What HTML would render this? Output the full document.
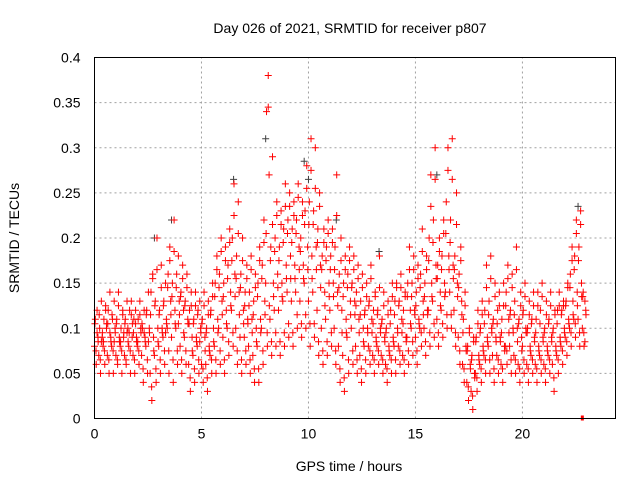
<!DOCTYPE html>
<html><head><meta charset="utf-8"><style>
body{margin:0;background:#fff}
svg{display:block;font-family:"Liberation Sans",sans-serif}
</style></head><body>
<svg id="chart" width="640" height="480">
<text x="350" y="33" font-size="14" text-anchor="middle">Day 026 of 2021, SRMTID for receiver p807</text>
<text x="349" y="471" font-size="14" text-anchor="middle">GPS time / hours</text>
<text transform="translate(19,238) rotate(-90)" font-size="14" text-anchor="middle">SRMTID / TECUs</text>
<g id="grid"></g><g id="ticks"></g><g id="gray"></g><g id="red"></g>
<rect x="94.5" y="57.5" width="521" height="361" fill="none" stroke="#000"/>
</svg>
<script>
const xTicks=[0,5,10,15,20];
const yTicks=[0,0.05,0.1,0.15,0.2,0.25,0.3,0.35,0.4];
const yTickLabels=["0","0.05","0.1","0.15","0.2","0.25","0.3","0.35","0.4"];
const binStart=0, binStep=0.2;
const samples=[
[.06,.08,.09,.11,.12],[.05,.07,.09,.10,.13],[.06,.08,.10,.11,.12],[.05,.07,.09,.12,.14],[.05,.08,.10,.11,.13],
[.06,.07,.09,.11,.14],[.05,.08,.09,.10,.12],[.06,.07,.10,.11,.13],[.05,.08,.09,.12,.13],[.05,.07,.09,.11,.12],
[.06,.08,.10,.11,.13],[.04,.07,.09,.10,.12],[.05,.08,.10,.12,.14],[.02,.05,.09,.14,.16],[.04,.07,.10,.13,.20],
[.05,.08,.10,.12,.17],[.06,.09,.11,.13,.15],[.05,.10,.13,.16,.19],[.04,.09,.12,.15,.22],[.06,.10,.13,.16,.18],
[.05,.08,.12,.14,.17],[.06,.09,.11,.13,.16],[.03,.06,.09,.12,.14],[.04,.07,.09,.11,.14],[.05,.08,.10,.12,.13],
[.04,.06,.09,.11,.14],[.03,.06,.08,.10,.13],[.05,.07,.10,.12,.15],[.05,.08,.11,.15,.18],[.06,.10,.13,.16,.20],
[.05,.09,.12,.15,.19],[.07,.10,.14,.17,.21],[.08,.12,.16,.20,.26],[.06,.10,.14,.18,.24],[.05,.09,.12,.16,.20],
[.06,.09,.11,.14,.17],[.05,.08,.11,.14,.18],[.04,.07,.10,.13,.16],[.04,.08,.11,.15,.19],[.06,.10,.13,.17,.22],
[.08,.15,.27,.34,.38],[.07,.11,.15,.19,.29],[.08,.12,.16,.20,.24],[.07,.12,.15,.19,.23],[.08,.13,.17,.21,.26],
[.09,.14,.18,.22,.25],[.08,.13,.17,.21,.24],[.10,.14,.19,.22,.26],[.09,.13,.17,.20,.24],[.10,.15,.19,.23,.28],
[.08,.13,.18,.24,.31],[.09,.14,.19,.23,.30],[.07,.12,.17,.21,.25],[.06,.10,.14,.18,.21],[.07,.11,.15,.19,.22],
[.08,.12,.15,.18,.21],[.06,.10,.14,.19,.27],[.04,.08,.12,.16,.20],[.03,.07,.11,.15,.18],[.05,.09,.13,.16,.19],
[.06,.10,.13,.15,.18],[.05,.08,.11,.14,.17],[.04,.07,.10,.13,.16],[.05,.08,.10,.12,.15],[.06,.08,.11,.13,.17],
[.05,.07,.09,.12,.14],[.06,.08,.10,.12,.18],[.05,.07,.09,.11,.14],[.04,.06,.08,.10,.13],[.05,.07,.09,.12,.15],
[.05,.08,.10,.13,.15],[.06,.08,.11,.13,.16],[.05,.07,.09,.12,.14],[.06,.09,.12,.15,.19],[.07,.10,.12,.15,.18],
[.06,.09,.11,.14,.17],[.08,.10,.13,.16,.21],[.07,.10,.12,.15,.18],[.08,.12,.15,.20,.27],[.09,.13,.17,.22,.30],
[.08,.11,.14,.17,.20],[.09,.12,.15,.18,.22],[.10,.14,.18,.24,.30],[.10,.14,.17,.22,.31],[.08,.12,.15,.18,.25],
[.06,.09,.13,.16,.19],[.04,.06,.08,.11,.14],[.02,.04,.06,.08,.10],[.01,.03,.05,.07,.09],[.03,.05,.07,.09,.12],
[.04,.06,.08,.10,.13],[.05,.07,.09,.12,.17],[.05,.08,.10,.13,.18],[.04,.07,.09,.11,.15],[.05,.07,.09,.12,.14],
[.04,.06,.08,.11,.15],[.06,.08,.11,.14,.17],[.05,.08,.10,.12,.16],[.05,.07,.10,.13,.19],[.04,.06,.09,.11,.14],
[.05,.08,.10,.12,.15],[.04,.06,.08,.10,.13],[.05,.07,.09,.11,.14],[.04,.06,.08,.11,.14],[.05,.07,.09,.12,.15],
[.04,.06,.08,.10,.13],[.05,.07,.09,.11,.14],[.03,.06,.08,.10,.12],[.05,.07,.09,.12,.14],[.06,.08,.10,.12,.13],
[.07,.09,.11,.13,.15],[.08,.10,.13,.16,.19],[.09,.11,.14,.18,.22],[.08,.11,.15,.19,.23],[.08,.10,.12,.14,.13]
];
const samplesB=[
[.075,.085,.105,.095],[.065,.095,.115,.085],[.075,.105,.085,.125],[.065,.085,.105,.095],[.075,.095,.115,.085],
[.065,.085,.105,.125],[.075,.095,.085,.115],[.065,.085,.105,.095],[.075,.105,.095,.115],[.065,.085,.095,.105],
[.075,.095,.085,.115],[.055,.085,.105,.095],[.065,.095,.115,.085],[.035,.075,.115,.155],[.055,.085,.125,.165],
[.065,.095,.115,.145],[.075,.105,.125,.095],[.075,.115,.145,.175],[.065,.105,.135,.185],[.075,.115,.145,.105],
[.065,.095,.135,.155],[.075,.105,.125,.145],[.045,.075,.105,.125],[.055,.085,.105,.125],[.065,.095,.115,.085],
[.055,.075,.105,.125],[.045,.075,.095,.115],[.065,.085,.115,.135],[.065,.095,.135,.165],[.075,.115,.145,.185],
[.065,.105,.135,.175],[.085,.125,.155,.195],[.095,.135,.175,.225],[.075,.115,.155,.205],[.065,.105,.145,.175],
[.075,.105,.125,.155],[.065,.095,.125,.165],[.055,.085,.115,.145],[.055,.095,.135,.175],[.075,.115,.155,.195],
[.095,.125,.205,.345],[.085,.135,.175,.215],[.095,.145,.185,.225],[.085,.135,.175,.215],[.095,.155,.195,.235],
[.105,.155,.205,.235],[.095,.155,.195,.225],[.115,.165,.205,.245],[.105,.155,.185,.225],[.115,.165,.215,.255],
[.105,.155,.215,.275],[.105,.165,.215,.255],[.085,.145,.195,.235],[.075,.125,.165,.195],[.085,.135,.175,.205],
[.095,.135,.165,.195],[.075,.125,.165,.225],[.055,.095,.145,.175],[.045,.095,.135,.165],[.065,.115,.145,.175],
[.075,.115,.145,.165],[.065,.095,.125,.155],[.055,.085,.115,.145],[.065,.095,.115,.135],[.075,.095,.125,.155],
[.065,.085,.105,.135],[.075,.095,.115,.145],[.065,.085,.105,.125],[.055,.075,.095,.115],[.065,.085,.105,.135],
[.065,.095,.115,.145],[.075,.095,.125,.145],[.065,.085,.105,.135],[.075,.105,.135,.165],[.085,.115,.135,.165],
[.075,.105,.125,.155],[.095,.115,.145,.185],[.085,.115,.135,.165],[.095,.135,.175,.235],[.105,.155,.195,.265],
[.095,.125,.155,.185],[.105,.135,.165,.205],[.115,.165,.205,.275],[.115,.155,.195,.265],[.095,.135,.165,.215],
[.075,.115,.145,.175],[.055,.075,.095,.125],[.035,.055,.075,.095],[.025,.045,.065,.085],[.045,.065,.085,.105],
[.055,.075,.095,.115],[.065,.085,.105,.145],[.065,.095,.115,.155],[.055,.085,.105,.135],[.065,.085,.105,.125],
[.055,.075,.095,.125],[.075,.095,.125,.155],[.065,.095,.115,.145],[.065,.085,.115,.165],[.055,.075,.105,.125],
[.065,.095,.115,.135],[.055,.075,.095,.115],[.065,.085,.105,.125],[.055,.075,.095,.125],[.065,.085,.105,.135],
[.055,.075,.095,.115],[.065,.085,.105,.125],[.045,.075,.095,.115],[.065,.085,.105,.125],[.075,.095,.115,.125],
[.085,.105,.125,.145],[.095,.115,.145,.175],[.105,.125,.165,.205],[.095,.135,.175,.215],[.095,.115,.135,.085]
];
const grayTimes=[2.8,3.6,8.0,9.8,10.0,13.3,16.0,22.6,6.5,11.3];
const grayValues=[.20,.22,.31,.285,.265,.185,.27,.235,.265,.22];
const zeroTimes=[22.8];
const zeroValues=[0];
const X0=94.5,X1=615.5,Y0=418.5,Y1=57.5,XMAX=24.35,YMAX=0.4;
const sx=t=>X0+(X1-X0)*t/XMAX, sy=v=>Y0-(Y0-Y1)*v/YMAX;
const slotOrder=[2,0,4,1,3];
const slotOrderB=[1,3,0,2];
const NS="http://www.w3.org/2000/svg";
function mk(tag,attrs,parent){const e=document.createElementNS(NS,tag);for(const k in attrs)e.setAttribute(k,attrs[k]);document.getElementById(parent).appendChild(e);return e;}
xTicks.forEach(t=>{
 if(t>0){const g=mk('line',{x1:sx(t),x2:sx(t),y1:Y0,y2:Y1,stroke:'#a0a0a0','stroke-dasharray':'2,3'},'grid');
 
 }
 const l=mk('text',{x:sx(t),y:Y0+20,'font-size':14,'text-anchor':'middle'},'ticks');l.textContent=t;
 
 
});
yTicks.forEach((v,i)=>{
 if(v>0&&v<YMAX){const g=mk('line',{x1:X0,x2:X1,y1:sy(v),y2:sy(v),stroke:'#a0a0a0','stroke-dasharray':'2,3'},'grid');
 
 }
 const l=mk('text',{x:X0-14,y:sy(v)+5,'font-size':14,'text-anchor':'end'},'ticks');l.textContent=yTickLabels[i];
 
 
});
function plus(t,v,color,group,name){
 const x=sx(t),y=sy(v);
 const p=mk('path',{d:`M${x-3.5},${y}H${x+3.5}M${x},${y-3.5}V${y+3.5}`,stroke:color,'stroke-width':1,fill:'none'},group);
 
 
}
grayTimes.forEach((t,i)=>plus(t,grayValues[i],'#404040','gray','gray-point'));
samples.forEach((row,i)=>{const t=binStart+i*binStep;row.forEach((v,j)=>plus(t+slotOrder[j]*binStep/5,v,'#ff0000','red','red-point'));});
samplesB.forEach((row,i)=>{const t=binStart+i*binStep+binStep/10;row.forEach((v,j)=>plus(t+slotOrderB[j]*binStep/4,v,'#ff0000','red','red-point'));});
zeroTimes.forEach((t,i)=>{
 const r=mk('rect',{x:sx(t)-1.5,y:sy(zeroValues[i])-3,width:3,height:5,fill:'#ff0000'},'red');
 
 
});
</script>
</body></html>
